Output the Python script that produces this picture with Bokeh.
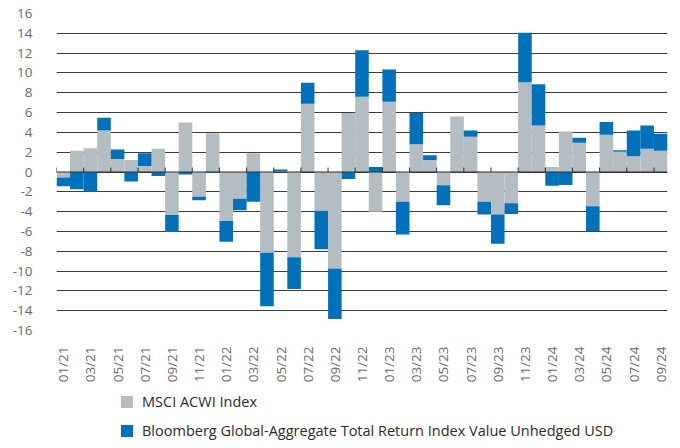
import math
from bokeh.plotting import figure
from bokeh.layouts import column
from bokeh.models import (Range1d, FixedTicker, Span, Legend, LegendItem,
                          ColumnDataSource)
from bokeh.embed import file_html
from bokeh.resources import INLINE

# ---------------- data ----------------
months = [f"{m:02d}/{y}" for y in (21, 22, 23, 24) for m in range(1, 13)][:45]

msci = [-0.55, 2.15, 2.4, 4.2, 1.3, 1.2, 0.6, 2.35, -4.35, 5.0, -2.5, 3.9,
        -4.95, -2.7, 1.9, -8.15, 0.1, -8.6, 6.9, -3.9, -9.75, 5.95, 7.6, -4.0,
        7.1, -3.0, 2.8, 1.2, -1.35, 5.6, 3.55, -3.0, -4.3, -3.15, 9.05, 4.7,
        0.5, 4.1, 2.95, -3.45, 3.75, 2.05, 1.6, 2.35, 2.15]

bloomberg = [-0.9, -1.75, -2.0, 1.27, 0.97, -0.95, 1.3, -0.4, -1.7, -0.25, -0.35, -0.1,
             -2.1, -1.15, -3.0, -5.4, 0.15, -3.2, 2.1, -3.9, -5.1, -0.7, 4.7, 0.5,
             3.25, -3.3, 3.15, 0.5, -2.0, -0.05, 0.65, -1.3, -2.95, -1.1, 5.0, 4.15,
             -1.4, -1.3, 0.5, -2.5, 1.3, 0.15, 2.6, 2.35, 1.7]

y_ticks = list(range(-16, 17, 2))
y_tick_labels = [str(v) for v in y_ticks]

series_names = ["MSCI ACWI Index",
                "Bloomberg Global-Aggregate Total Return Index Value Unhedged USD"]

GRAY = "#B4BDC1"
BLUE = "#0071BA"
FONT = "Open Sans"

# ---------------- stacking (Excel style: sign-separated) ----------------
n = len(months)
xc = [i + 0.5 for i in range(n)]
g_bottom = [0.0] * n
g_top = list(msci)
b_bottom, b_top = [], []
for g, b in zip(msci, bloomberg):
    base = g if (g >= 0) == (b >= 0) else 0.0
    b_bottom.append(base)
    b_top.append(base + b)

src_g = ColumnDataSource(dict(x=xc, top=g_top, bottom=g_bottom))
src_b = ColumnDataSource(dict(x=xc, top=b_top, bottom=b_bottom))

# ---------------- main chart ----------------
p = figure(width=680, height=385, output_backend="svg", toolbar_location=None,
           x_range=Range1d(0, n), y_range=Range1d(-16, 16),
           min_border_left=56, min_border_right=13, min_border_top=13,
           min_border_bottom=53)
p.outline_line_color = None
p.background_fill_color = "white"
p.border_fill_color = "white"

p.xgrid.visible = False
p.ygrid.ticker = FixedTicker(ticks=y_ticks)
p.ygrid.grid_line_color = "#3d3d3d"
p.ygrid.grid_line_width = 1

# y axis
p.yaxis.ticker = FixedTicker(ticks=y_ticks)
p.yaxis.major_label_overrides = {v: s for v, s in zip(y_ticks, y_tick_labels)}
p.yaxis.axis_line_color = None
p.yaxis.major_tick_line_color = None
p.yaxis.minor_tick_line_color = None
p.yaxis.major_label_standoff = 18
p.yaxis.major_label_text_font = FONT
p.yaxis.major_label_text_font_size = "13.5px"
p.yaxis.major_label_text_color = "#6a6a6a"

# x axis: label every other month, centred on the bar
label_pos = [xc[i] for i in range(0, n, 2)]
p.xaxis.ticker = FixedTicker(ticks=label_pos)
p.xaxis.major_label_overrides = {xc[i]: months[i] for i in range(0, n, 2)}
p.xaxis.major_label_orientation = math.pi / 2
p.xaxis.axis_line_color = None
p.xaxis.major_tick_line_color = None
p.xaxis.minor_tick_line_color = None
p.xaxis.major_label_standoff = 10
p.xaxis.major_label_text_font = FONT
p.xaxis.major_label_text_font_size = "13.5px"
p.xaxis.major_label_text_color = "#6a6a6a"

# bars
p.vbar(x="x", width=1.0, top="top", bottom="bottom", source=src_g,
       fill_color=GRAY, line_color=None)
p.vbar(x="x", width=1.0, top="top", bottom="bottom", source=src_b,
       fill_color=BLUE, line_color=None)

# zero line and category-boundary ticks
p.add_layout(Span(location=0, dimension="width", line_color="#2e2e2e", line_width=1))
tick_x = list(range(0, n, 2))
p.segment(x0=tick_x, y0=[0] * len(tick_x), x1=tick_x, y1=[0.45] * len(tick_x),
          line_color="#2e2e2e", line_width=1)

# ---------------- legend strip ----------------
lf = figure(width=680, height=63, output_backend="svg", toolbar_location=None,
            x_range=Range1d(0, 1), y_range=Range1d(0, 1),
            x_axis_type=None, y_axis_type=None,
            min_border_left=0, min_border_right=0, min_border_top=0,
            min_border_bottom=0)
lf.outline_line_color = None
lf.xgrid.visible = False
lf.ygrid.visible = False
# swatch-only renderers (placed outside the visible range)
lg_g = lf.vbar(x=[5], top=[5], bottom=[5], width=0.1, fill_color=GRAY, line_color=None)
lg_b = lf.vbar(x=[5], top=[5], bottom=[5], width=0.1, fill_color=BLUE, line_color=None)

legend = Legend(items=[LegendItem(label=series_names[0], renderers=[lg_g]),
                       LegendItem(label=series_names[1], renderers=[lg_b])],
                location=(63, 8), orientation="vertical",
                glyph_width=15, glyph_height=15, label_height=15,
                spacing=10, padding=0, margin=0, label_standoff=8,
                border_line_color=None, background_fill_alpha=0,
                label_text_font=FONT, label_text_font_size="14.5px",
                label_text_color="#2b2b2b")
lf.add_layout(legend)

layout = column(p, lf, spacing=0)
open("out.html", "w").write(file_html(layout, INLINE))
